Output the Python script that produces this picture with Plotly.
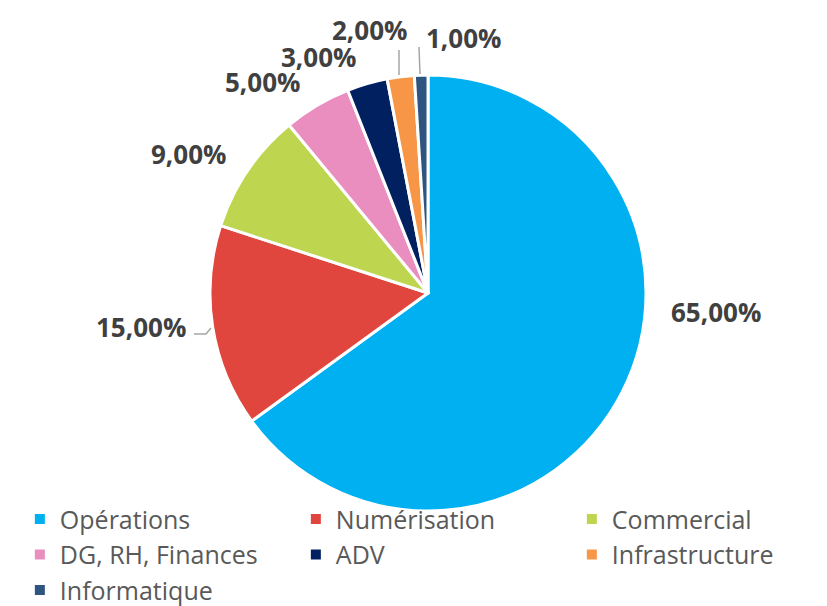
import plotly.graph_objects as go

categories = ["Opérations", "Numérisation", "Commercial", "DG, RH, Finances", "ADV", "Infrastructure", "Informatique"]
values = [65, 15, 9, 5, 3, 2, 1]
text_labels = ["65,00%", "15,00%", "9,00%", "5,00%", "3,00%", "2,00%", "1,00%"]
colors = ["#00B0F0", "#E0463D", "#BED64F", "#EA8DBF", "#002060", "#F79646", "#2E5480"]

W, H = 827, 606
cx, cy, r = 428, 293, 218

# data-label placement (pixel centres, as laid out in the reference)
label_pos = [(716, 312), (141, 327), (188, 154), (262, 82), (318, 57), (369, 30), (463, 38)]
# leader lines (pixel polylines)
leaders = [
    [(194, 334), (206, 334), (211, 328)],
    [(399, 50), (399, 75)],
    [(419, 47), (420, 74)],
]

def px(x):
    return x / W

def py(y):
    return 1 - y / H

fig = go.Figure(go.Pie(
    labels=categories,
    values=values,
    textinfo="none",
    sort=False,
    direction="clockwise",
    rotation=0,
    marker=dict(colors=colors, line=dict(color="white", width=3)),
    domain=dict(x=[px(cx - r), px(cx + r)], y=[py(cy + r), py(cy - r)]),
    hoverinfo="label+percent",
))

annotations = []
for t, (x, y) in zip(text_labels, label_pos):
    annotations.append(dict(
        x=px(x), y=py(y), xref="paper", yref="paper",
        text=t, showarrow=False, xanchor="center", yanchor="middle",
        font=dict(family="Open Sans", size=26, color="#404040", weight="bold"),
    ))

shapes = []
for pts in leaders:
    path = "M " + " L ".join(f"{px(a)},{py(b)}" for a, b in pts)
    shapes.append(dict(type="path", path=path, xref="paper", yref="paper",
                       line=dict(color="#A6A6A6", width=1.5)))

fig.update_layout(
    width=W, height=H,
    margin=dict(l=0, r=0, t=0, b=0, autoexpand=False),
    paper_bgcolor="white",
    annotations=annotations,
    shapes=shapes,
    showlegend=True,
    legend=dict(
        orientation="h",
        x=0.024, xanchor="left",
        y=-0.012, yanchor="bottom",
        entrywidth=231, entrywidthmode="pixels",
        font=dict(family="Open Sans", size=25, color="#595959"),
        bgcolor="rgba(0,0,0,0)",
        itemsizing="constant",
    ),
)

fig.write_html("out.html")
